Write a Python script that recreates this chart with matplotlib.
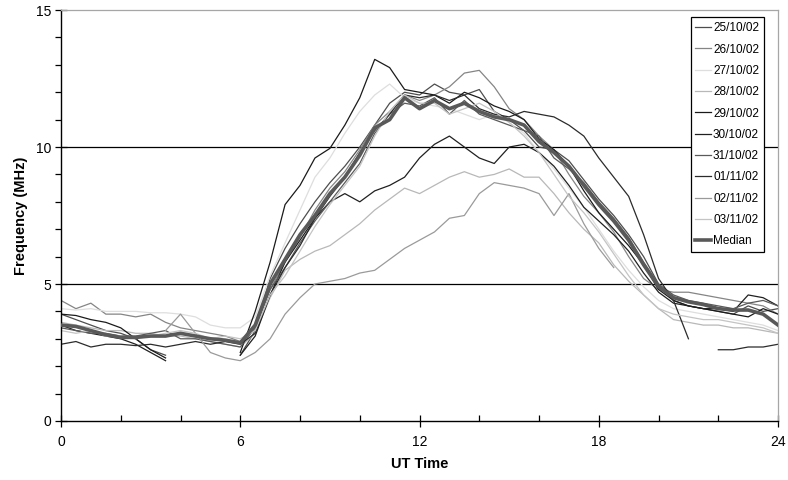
import numpy as np
import matplotlib
matplotlib.use("Agg")
import matplotlib.pyplot as plt
from matplotlib.ticker import MultipleLocator

plt.rcParams['font.family'] = ['Liberation Sans', 'DejaVu Sans']

nan = np.nan

# UT hours, half-hour steps
hours = np.arange(0, 24.01, 0.5)

d_25_10 = [3.9, 3.7, 3.5, 3.3, 3.2, 3.0, 2.6, 2.4, nan, nan, nan, nan,
           2.4, 3.3, 5.2, 6.3, 7.2, 8.0, 8.7, 9.3, 10.0, 10.8, 11.6, 12.0,
           11.9, 12.3, 12.0, 11.9, 12.1, 11.3, 11.0, 10.6, 10.0, 9.9, 9.5, 8.8,
           8.1, 7.5, 6.8, 6.0, 5.0, 4.4, 4.2, 4.1, 4.0, 3.9, 4.2, 4.0, 4.1]
d_26_10 = [4.4, 4.1, 4.3, 3.9, 3.9, 3.8, 3.9, 3.6, 3.4, 3.3, 3.2, 3.1,
           2.9, 3.4, 4.8, 5.8, 6.7, 7.7, 8.5, 9.1, 9.9, 10.8, 11.3, 11.9,
           11.7, 11.9, 12.2, 12.7, 12.8, 12.2, 11.4, 11.0, 10.4, 9.9, 9.0, 8.2,
           7.6, 6.9, 6.0, 5.2, 4.8, 4.7, 4.7, 4.6, 4.5, 4.4, 4.3, 4.2, 3.9]
d_27_10 = [4.1, 4.05, 4.1, 4.0, 4.0, 4.0, 3.95, 3.95, 3.9, 3.8, 3.5, 3.4,
           3.4, 3.8, 5.3, 6.5, 7.7, 8.9, 9.6, 10.5, 11.3, 11.9, 12.3, 11.8,
           11.6, 11.5, 11.4, 11.2, 11.0, 11.2, 10.9, 10.5, 9.8, 9.2, 8.5, 7.8,
           7.0, 6.2, 5.5, 4.9, 4.4, 4.1, 4.0, 3.9, 3.8, 3.7, 3.6, 3.5, 3.3]
d_28_10 = [3.6, 3.5, 3.4, 3.3, 3.3, 3.2, 3.2, 3.1, 3.1, 3.0, 2.9, 2.8,
           2.7, 3.2, 4.5, 5.5, 5.9, 6.2, 6.4, 6.8, 7.2, 7.7, 8.1, 8.5,
           8.3, 8.6, 8.9, 9.1, 8.9, 9.0, 9.2, 8.9, 8.9, 8.3, 7.6, 7.0,
           6.5, 5.7, 5.1, 4.6, 4.1, 3.7, 3.6, 3.5, 3.5, 3.4, 3.4, 3.3, 3.2]
d_29_10 = [3.9, 3.85, 3.7, 3.6, 3.4, 3.0, 2.6, 2.3, nan, nan, nan, nan,
           2.5, 4.0, 5.8, 7.9, 8.6, 9.6, 9.95, 10.8, 11.8, 13.2, 12.9, 12.1,
           12.0, 11.9, 11.6, 12.0, 11.8, 11.5, 11.3, 11.0, 10.3, 9.9, 9.3, 8.4,
           7.6, 7.0, 6.4, 5.7, 4.8, 4.4, 4.2, 4.1, 4.0, 3.9, 3.8, 4.1, 3.9]
d_30_10 = [3.5, 3.3, 3.2, 3.1, 3.0, 2.8, 2.5, 2.2, nan, nan, nan, nan,
           2.4, 3.1, 4.6, 5.8, 6.6, 7.4, 8.0, 8.3, 8.0, 8.4, 8.6, 8.9,
           9.6, 10.1, 10.4, 10.0, 9.6, 9.4, 10.0, 10.1, 9.8, 9.3, 8.6, 7.8,
           7.3, 6.8, 6.2, 5.4, 4.7, 4.3, 4.2, 4.1, 4.1, 4.0, 4.6, 4.5, 4.2]
d_31_10 = [3.4, 3.3, 3.2, 3.2, 3.1, 3.1, 3.2, 3.3, 3.0, 3.0, 2.9, 2.8,
           2.7, 3.4, 4.8, 5.6, 6.5, 7.3, 8.0, 8.7, 9.4, 10.5, 11.2, 11.6,
           11.5, 11.8, 11.2, 11.7, 11.2, 11.0, 10.8, 10.6, 10.4, 9.6, 9.2, 8.7,
           8.0, 7.4, 6.7, 5.8, 5.0, 4.6, 4.4, 4.3, 4.2, 4.1, 4.3, 4.4, 4.2]
d_01_11 = [2.8, 2.9, 2.7, 2.8, 2.8, 2.75, 2.8, 2.7, 2.8, 2.9, 2.8, 2.9,
           2.8, 3.2, 4.6, 5.6, 6.4, 7.4, 8.2, 8.9, 9.8, 10.6, 11.2, 11.9,
           11.8, 11.9, 11.7, 11.9, 11.4, 11.2, 11.1, 11.3, 11.2, 11.1, 10.8, 10.4,
           9.6, 8.9, 8.2, 6.8, 5.2, 4.4, 3.0, nan, 2.6, 2.6, 2.7, 2.7, 2.8]
d_02_11 = [nan, nan, nan, nan, nan, nan, nan, 3.3, 3.9, 3.2, 2.5, 2.3,
           2.2, 2.5, 3.0, 3.9, 4.5, 5.0, 5.1, 5.2, 5.4, 5.5, 5.9, 6.3,
           6.6, 6.9, 7.4, 7.5, 8.3, 8.7, 8.6, 8.5, 8.3, 7.5, 8.3, 7.2,
           6.3, 5.6, nan, nan, nan, nan, nan, nan, nan, nan, nan, nan, nan]
d_03_11 = [3.3, 3.2, 3.3, 3.1, 3.1, 3.0, 3.1, 3.2, 3.3, 3.2, 3.0, 3.1,
           3.0, 3.3, 4.6, 5.3, 6.2, 7.1, 7.9, 8.6, 9.3, 10.4, 11.3, 11.9,
           11.6, 11.6, 11.2, 11.4, 11.6, 11.3, 10.9, 10.4, 9.8, 9.0, 8.2, 7.6,
           6.9, 6.1, 5.3, 4.6, 4.1, 3.9, 3.8, 3.7, 3.7, 3.6, 3.5, 3.4, 3.2]
median = [3.5, 3.45, 3.3, 3.15, 3.05, 3.05, 3.1, 3.1, 3.2, 3.1, 3.0, 2.95,
          2.85, 3.5, 5.0, 5.9, 6.8, 7.5, 8.3, 8.9, 9.7, 10.7, 11.0, 11.8,
          11.4, 11.7, 11.4, 11.6, 11.3, 11.1, 11.0, 10.8, 10.2, 9.8, 9.3, 8.6,
          7.9, 7.3, 6.6, 5.7, 4.9, 4.5, 4.35, 4.25, 4.1, 4.05, 4.05, 3.9, 3.5]

days = ["25/10/02", "26/10/02", "27/10/02", "28/10/02", "29/10/02",
        "30/10/02", "31/10/02", "01/11/02", "02/11/02", "03/11/02"]
series = [d_25_10, d_26_10, d_27_10, d_28_10, d_29_10,
          d_30_10, d_31_10, d_01_11, d_02_11, d_03_11]
greys = ["#4d4d4d", "#858585", "#dedede", "#b8b8b8", "#1a1a1a",
         "#202020", "#5a5a5a", "#2b2b2b", "#9a9a9a", "#c4c4c4"]

fig = plt.figure(figsize=(7.88, 4.80), dpi=100)
ax = fig.add_axes([0.0774, 0.123, 0.910, 0.856])

for yv in [5, 10]:
    ax.axhline(yv, color="black", lw=0.9, zorder=1)

for lab, vals, c in zip(days, series, greys):
    ax.plot(hours, vals, color=c, lw=0.9, label=lab, zorder=2)
ax.plot(hours, median, color="#595959", lw=2.6, label="Median", zorder=3)

ax.set_xlim(0, 24)
ax.set_ylim(0, 15)
ax.xaxis.set_major_locator(MultipleLocator(6))
ax.xaxis.set_minor_locator(MultipleLocator(2))
ax.yaxis.set_major_locator(MultipleLocator(5))
ax.yaxis.set_minor_locator(MultipleLocator(1))
ax.tick_params(axis="x", which="major", direction="inout", length=8, width=0.9, labelsize=10, pad=6)
ax.tick_params(axis="x", which="minor", direction="in", length=4, width=0.9)
ax.tick_params(axis="y", which="major", direction="inout", length=8, width=0.9, labelsize=10, pad=3)
ax.tick_params(axis="y", which="minor", direction="out", length=4, width=0.9)

for s in ["left", "bottom"]:
    ax.spines[s].set_color("black")
    ax.spines[s].set_linewidth(1.0)
for s in ["top", "right"]:
    ax.spines[s].set_color("#a6a6a6")
    ax.spines[s].set_linewidth(0.9)

ax.set_xlabel("UT Time", fontsize=10.5, fontweight="bold", labelpad=6)
ax.set_ylabel("Frequency (MHz)", fontsize=10.5, fontweight="bold", labelpad=6)

leg = ax.legend(loc="upper right", bbox_to_anchor=(0.98, 0.982), fontsize=8.5,
                frameon=True, fancybox=False, edgecolor="black", framealpha=1,
                handlelength=1.3, handletextpad=0.2, labelspacing=0.79,
                borderpad=0.4, borderaxespad=0)
leg.get_frame().set_linewidth(0.9)

fig.savefig("out.png", dpi=100)
